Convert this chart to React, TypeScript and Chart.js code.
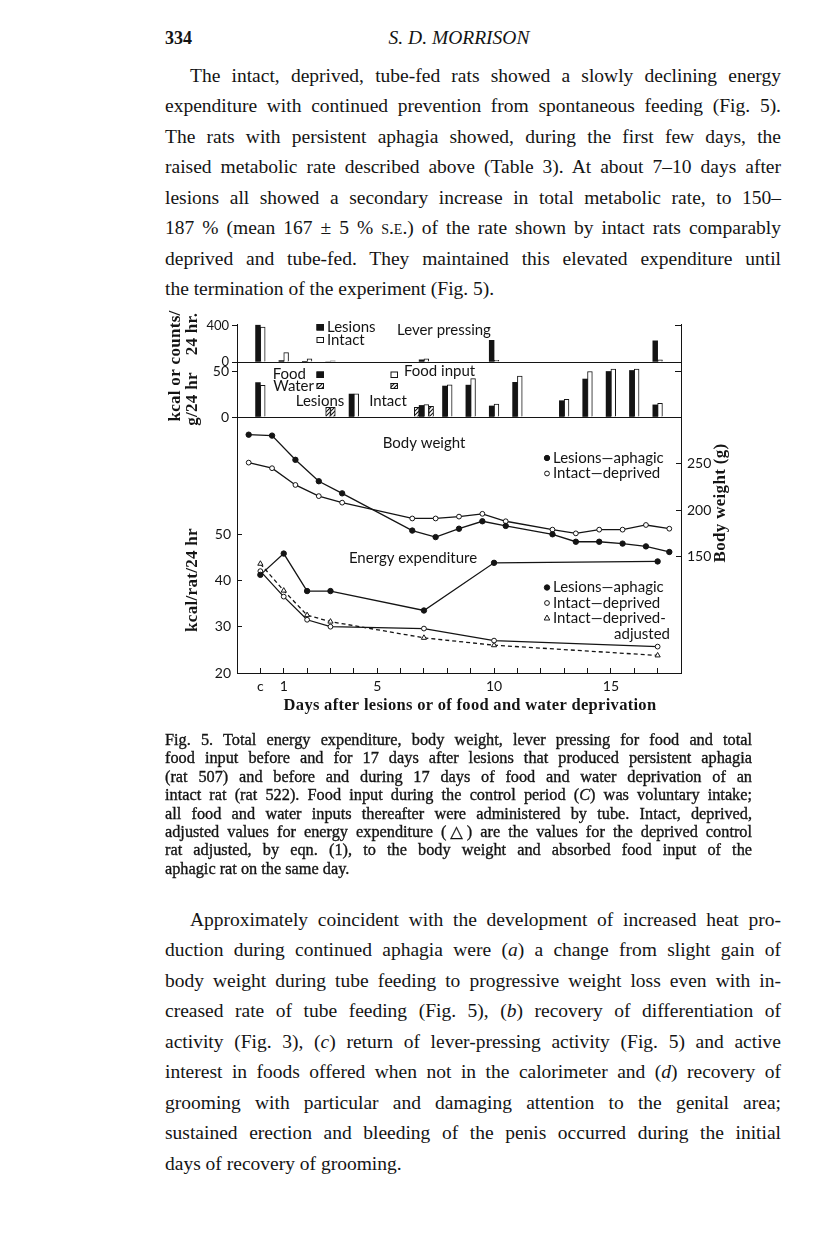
import React, { useEffect, useRef } from 'react';
import { Chart, registerables } from 'chart.js';

Chart.register(...registerables);

// ---------------- data ----------------
const energyDays = [0, 1, 2, 3, 7, 10, 17];
const energyLesions = [41.2, 45.8, 37.7, 37.7, 33.5, 43.8, 44.1];
const energyIntact = [42.0, 36.5, 31.5, 30.0, 29.6, 27.0, 25.7];
const energyAdjusted = [43.6, 37.8, 32.5, 31.1, 27.6, 26.0, 23.8];

const weightDays = [-0.5, 0.5, 1.5, 2.5, 3.5, 6.5, 7.5, 8.5, 9.5, 10.5, 12.5, 13.5, 14.5, 15.5, 16.5, 17.5];
const weightLesions = [281, 280, 254, 231, 218, 178, 171, 180, 188, 183, 174, 166, 166, 164, 161, 155];
const weightIntact = [251, 245, 227, 215, 208, 191, 191, 193, 196, 188, 179, 175, 179, 179, 184, 180];

const leverDays = [0, 1, 2, 3, 7, 10, 17];
const leverLesions = [410, 15, 8, 0, 23, 240, 232];
const leverIntact = [385, 103, 34, 14, 34, 19, 23];

const foodDays = [0, 4, 7, 8, 9, 10, 11, 13, 14, 15, 16, 17];
const foodLesions = [37.8, 25.2, 12.7, 34.0, 35.0, 12.1, 38.1, 17.9, 41.7, 50.0, 51.1, 13.3];
const foodIntact = [34.9, 25.5, 13.6, 35.4, 42.2, 14.3, 45.0, 19.4, 50.0, 52.5, 52.5, 15.1];
const waterDays = [3, 7];
const waterLesions = [10.6, 10.5];
const waterIntact = [10.6, 11.7];

const dayTickLabels: Record<string, string> = { '0': 'c', '1': '1', '5': '5', '10': '10', '15': '15' };
const leverTicks = [0, 400];
const foodTicks = [0, 50];
const energyTicks = [20, 30, 40, 50];
const weightTicks = [150, 200, 250];

// ---------------- layout / style ----------------
const INK = '#141414';
const SANS = 'Lato, "Open Sans", sans-serif';
const SERIF = '"Liberation Serif", "DejaVu Serif", serif';
const LABEL_FONT = `15px ${SANS}`;
const VTITLE_FONT = `bold 17px ${SERIF}`;
const XTITLE_FONT = `bold 16.5px ${SERIF}`;

const X_MIN = -1;
const X_MAX = 18;
const PLOT_L = 237;
const PLOT_R = 681;
const LEVER_TOP = 324.8;
const LEVER_BOT = 362;
const FOOD_TOP = 362;
const FOOD_BOT = 417;
const MAIN_TOP = 417;
const MAIN_BOT = 673;
const CV_LEFT = 150;
const CV_W = 600;
const PX_PER_DAY = (PLOT_R - PLOT_L) / (X_MAX - X_MIN);
const BAR_W = 4.8;
const SLOT = BAR_W / PX_PER_DAY;

type Box = { top: number; height: number };
const boxA: Box = { top: 296, height: 76 };
const boxB: Box = { top: 296, height: 136 };
const boxC: Box = { top: 407, height: 320 };

// ---------------- helpers ----------------
let hatchCache: CanvasPattern | null = null;
function hatch(): CanvasPattern | string {
  if (hatchCache) return hatchCache;
  const c = document.createElement('canvas');
  c.width = 4;
  c.height = 4;
  const g = c.getContext('2d');
  if (!g) return '#888';
  g.fillStyle = '#fff';
  g.fillRect(0, 0, 4, 4);
  g.strokeStyle = INK;
  g.lineWidth = 1.1;
  g.beginPath();
  g.moveTo(0, 4); g.lineTo(4, 0);
  g.moveTo(-1, 1); g.lineTo(1, -1);
  g.moveTo(3, 5); g.lineTo(5, 3);
  g.stroke();
  hatchCache = g.createPattern(c, 'repeat');
  return hatchCache || '#888';
}

function pText(ctx: CanvasRenderingContext2D, box: Box, s: string, x: number, y: number,
  font: string, align: CanvasTextAlign = 'left', rot = 0, spacing = 0) {
  ctx.save();
  ctx.font = font;
  ctx.fillStyle = INK;
  ctx.textBaseline = 'middle';
  ctx.textAlign = align;
  if (spacing) (ctx as any).letterSpacing = `${spacing}px`;
  ctx.translate(x - CV_LEFT, y - box.top);
  if (rot) ctx.rotate(rot);
  ctx.fillText(s, 0, 0);
  ctx.restore();
}

function pRect(ctx: CanvasRenderingContext2D, box: Box, x: number, y: number, w: number, h: number, fill: any) {
  ctx.save();
  const X = x - CV_LEFT;
  const Y = y - box.top;
  ctx.fillStyle = fill;
  ctx.fillRect(X, Y, w, h);
  ctx.strokeStyle = INK;
  ctx.lineWidth = 1;
  ctx.strokeRect(X + 0.5, Y + 0.5, w - 1, h - 1);
  ctx.restore();
}

function pMarker(ctx: CanvasRenderingContext2D, box: Box, kind: 'filled' | 'open' | 'tri', x: number, y: number) {
  ctx.save();
  const X = x - CV_LEFT;
  const Y = y - box.top;
  ctx.strokeStyle = INK;
  ctx.lineWidth = 1;
  ctx.beginPath();
  if (kind === 'tri') {
    ctx.moveTo(X, Y - 3);
    ctx.lineTo(X + 2.8, Y + 2);
    ctx.lineTo(X - 2.8, Y + 2);
    ctx.closePath();
  } else {
    ctx.arc(X, Y, kind === 'filled' ? 2.7 : 2.4, 0, Math.PI * 2);
  }
  ctx.fillStyle = kind === 'filled' ? INK : '#fff';
  ctx.fill();
  ctx.stroke();
  ctx.restore();
}

function yAxis(o: { position: 'left' | 'right'; min: number; max: number; ticks: number[]; width: number;
  tickLen: number; labels: boolean; size: number; pad: number }) {
  return {
    type: 'linear',
    position: o.position,
    min: o.min,
    max: o.max,
    afterBuildTicks: (s: any) => { s.ticks = o.ticks.map((v) => ({ value: v })); },
    afterFit: (s: any) => { s.width = o.width; s.paddingTop = 0; s.paddingBottom = 0; },
    grid: { display: true, drawOnChartArea: false, drawTicks: true, tickLength: o.tickLen, color: INK, lineWidth: 1 },
    border: { display: true, color: INK, width: 1 },
    ticks: { display: o.labels, color: INK, font: { family: SANS, size: o.size }, padding: o.pad },
  };
}

function xAxis(height: number, withTicks: boolean) {
  return {
    type: 'linear',
    position: 'bottom',
    min: X_MIN,
    max: X_MAX,
    offset: false,
    afterFit: (s: any) => { s.height = height; s.paddingLeft = 0; s.paddingRight = 0; },
    grid: { display: true, offset: false, drawOnChartArea: false, drawTicks: withTicks, tickLength: -5, color: INK, lineWidth: 1 },
    border: { display: true, color: INK, width: 1 },
    ticks: {
      display: withTicks,
      stepSize: 1,
      autoSkip: false,
      maxRotation: 0,
      padding: 10,
      color: INK,
      font: { family: SANS, size: 14 },
      callback: (v: any) => dayTickLabels[String(v)] ?? '',
    },
  };
}

function baseOptions(box: Box, top: number, bottom: number) {
  return {
    responsive: false,
    maintainAspectRatio: false,
    animation: false,
    events: [],
    layout: {
      autoPadding: false,
      padding: { top: top - box.top, bottom: box.top + box.height - bottom, left: 0, right: 0 },
    },
    plugins: { legend: { display: false }, tooltip: { enabled: false }, title: { display: false } },
  };
}

function barSet(points: { x: number; y: number }[], fill: any, border: number) {
  return {
    type: 'bar',
    data: points,
    backgroundColor: fill,
    borderColor: INK,
    borderWidth: border,
    barThickness: BAR_W,
    maxBarThickness: BAR_W,
    grouped: false,
  };
}

// ---------------- charts ----------------
function makeLever(canvas: HTMLCanvasElement) {
  const notes = {
    id: 'leverNotes',
    afterDraw(chart: any) {
      const ctx = chart.ctx as CanvasRenderingContext2D;
      pRect(ctx, boxA, 316.5, 324, 7.5, 6.5, INK);
      pText(ctx, boxA, 'Lesions', 327, 327.5, LABEL_FONT);
      pRect(ctx, boxA, 316.5, 337, 7.5, 6, '#fff');
      pText(ctx, boxA, 'Intact', 327, 340.5, LABEL_FONT);
      pText(ctx, boxA, 'Lever pressing', 397, 330, LABEL_FONT);
    },
  };
  return new Chart(canvas, {
    type: 'bar',
    data: {
      datasets: [
        barSet(leverDays.map((d, i) => ({ x: d - SLOT / 2, y: leverLesions[i] })), INK, 0),
        barSet(leverDays.map((d, i) => ({ x: d + SLOT / 2, y: leverIntact[i] })), '#fff', 1),
      ] as any,
    },
    options: {
      ...baseOptions(boxA, LEVER_TOP, LEVER_BOT),
      scales: {
        x: xAxis(0, false),
        y: yAxis({ position: 'left', min: 0, max: 410, ticks: leverTicks, width: PLOT_L - CV_LEFT, tickLen: 5, labels: true, size: 13, pad: 3 }),
        yR: yAxis({ position: 'right', min: 0, max: 410, ticks: leverTicks, width: CV_LEFT + CV_W - PLOT_R, tickLen: -6, labels: false, size: 13, pad: 3 }),
      },
    } as any,
    plugins: [notes],
  });
}

function makeFood(canvas: HTMLCanvasElement) {
  const h = hatch();
  const notes = {
    id: 'foodNotes',
    afterDraw(chart: any) {
      const ctx = chart.ctx as CanvasRenderingContext2D;
      pText(ctx, boxB, 'Food', 306, 374, LABEL_FONT, 'right');
      pRect(ctx, boxB, 316.5, 371.5, 7.5, 6.5, INK);
      pText(ctx, boxB, 'Water', 314, 386, LABEL_FONT, 'right');
      pRect(ctx, boxB, 316.5, 383, 7.5, 6, h);
      pText(ctx, boxB, 'Lesions', 320, 401, LABEL_FONT, 'center');
      pRect(ctx, boxB, 390.5, 371.5, 7.5, 6.5, '#fff');
      pText(ctx, boxB, 'Food input', 404, 371, LABEL_FONT);
      pRect(ctx, boxB, 390.5, 383, 7.5, 6, h);
      pText(ctx, boxB, 'Intact', 388, 401, LABEL_FONT, 'center');
      // combined axis title of the two upper panels
      pText(ctx, boxB, 'kcal or counts/', 176, 366, VTITLE_FONT, 'center', -Math.PI / 2, 0.3);
      pText(ctx, boxB, '24 hr.', 193, 334, VTITLE_FONT, 'center', -Math.PI / 2, 0.3);
      pText(ctx, boxB, 'g/24 hr', 193, 399, VTITLE_FONT, 'center', -Math.PI / 2, 0.3);
    },
  };
  const waterOffset = (d: number) => (foodDays.includes(d) ? 1.5 : 0.5) * SLOT;
  return new Chart(canvas, {
    type: 'bar',
    data: {
      datasets: [
        barSet(foodDays.map((d, i) => ({ x: d - SLOT / 2, y: foodLesions[i] })), INK, 0),
        barSet(foodDays.map((d, i) => ({ x: d + SLOT / 2, y: foodIntact[i] })), '#fff', 1),
        barSet(waterDays.map((d, i) => ({ x: d - waterOffset(d), y: waterLesions[i] })), h, 1),
        barSet(waterDays.map((d, i) => ({ x: d + waterOffset(d), y: waterIntact[i] })), h, 1),
      ] as any,
    },
    options: {
      ...baseOptions(boxB, FOOD_TOP, FOOD_BOT),
      scales: {
        x: xAxis(0, false),
        y: yAxis({ position: 'left', min: 0, max: 60.4, ticks: foodTicks, width: PLOT_L - CV_LEFT, tickLen: 5, labels: true, size: 14, pad: 3 }),
        yR: yAxis({ position: 'right', min: 0, max: 60.4, ticks: foodTicks, width: CV_LEFT + CV_W - PLOT_R, tickLen: -6, labels: false, size: 13, pad: 3 }),
      },
    } as any,
    plugins: [notes],
  });
}

function lineSet(xs: number[], ys: number[], axis: string, filled: boolean, extra: any = {}) {
  return {
    type: 'line',
    data: xs.map((x, i) => ({ x, y: ys[i] })),
    yAxisID: axis,
    borderColor: INK,
    borderWidth: 1.3,
    tension: 0,
    fill: false,
    pointRadius: filled ? 2.7 : 2.4,
    pointBorderWidth: 1,
    pointBorderColor: INK,
    pointBackgroundColor: filled ? INK : '#fff',
    ...extra,
  };
}

function makeMain(canvas: HTMLCanvasElement) {
  const notes = {
    id: 'mainNotes',
    afterDraw(chart: any) {
      const ctx = chart.ctx as CanvasRenderingContext2D;
      pText(ctx, boxC, 'Body weight', 424, 443, LABEL_FONT, 'center');
      pMarker(ctx, boxC, 'filled', 547, 458);
      pText(ctx, boxC, 'Lesions\u2014aphagic', 553, 458, LABEL_FONT);
      pMarker(ctx, boxC, 'open', 547, 473.5);
      pText(ctx, boxC, 'Intact\u2014deprived', 553, 473.5, LABEL_FONT);
      pText(ctx, boxC, 'Energy expenditure', 413, 558, LABEL_FONT, 'center');
      pMarker(ctx, boxC, 'filled', 547, 587.5);
      pText(ctx, boxC, 'Lesions\u2014aphagic', 553, 587.5, LABEL_FONT);
      pMarker(ctx, boxC, 'open', 547, 603);
      pText(ctx, boxC, 'Intact\u2014deprived', 553, 603, LABEL_FONT);
      pMarker(ctx, boxC, 'tri', 547, 618);
      pText(ctx, boxC, 'Intact\u2014deprived-', 553, 618, LABEL_FONT);
      pText(ctx, boxC, 'adjusted', 670, 634.5, LABEL_FONT, 'right');
      pText(ctx, boxC, 'kcal/rat/24 hr', 193, 580, VTITLE_FONT, 'center', -Math.PI / 2, 0.3);
      pText(ctx, boxC, 'Body weight (g)', 721, 503, VTITLE_FONT, 'center', -Math.PI / 2, 0.3);
      pText(ctx, boxC, 'Days after lesions or of food and water deprivation', 470, 706, XTITLE_FONT, 'center', 0, 0.3);
    },
  };
  return new Chart(canvas, {
    type: 'line',
    data: {
      datasets: [
        lineSet(weightDays, weightLesions, 'yR', true),
        lineSet(weightDays, weightIntact, 'yR', false),
        lineSet(energyDays, energyLesions, 'y', true),
        lineSet(energyDays, energyIntact, 'y', false),
        lineSet(energyDays, energyAdjusted, 'y', false, { borderDash: [4, 3], pointStyle: 'triangle', pointRadius: 3 }),
      ] as any,
    },
    options: {
      ...baseOptions(boxC, MAIN_TOP, boxC.top + boxC.height),
      scales: {
        x: xAxis(boxC.top + boxC.height - MAIN_BOT, true),
        y: yAxis({ position: 'left', min: 20, max: 75.3, ticks: energyTicks, width: PLOT_L - CV_LEFT, tickLen: -5, labels: true, size: 14, pad: 11 }),
        yR: yAxis({ position: 'right', min: 25, max: 300, ticks: weightTicks, width: CV_LEFT + CV_W - PLOT_R, tickLen: -5, labels: true, size: 14, pad: 11 }),
      },
    } as any,
    plugins: [notes],
  });
}

function ChartCanvas({ box, make }: { box: Box; make: (c: HTMLCanvasElement) => Chart }) {
  const ref = useRef<HTMLCanvasElement | null>(null);
  useEffect(() => {
    if (!ref.current) return;
    const ch = make(ref.current);
    return () => ch.destroy();
  }, [box, make]);
  return (
    <canvas
      ref={ref}
      width={CV_W}
      height={box.height}
      style={{ position: 'absolute', left: CV_LEFT - 8, top: box.top - 8, width: CV_W, height: box.height, display: 'block' }}
    />
  );
}

// ---------------- page text ----------------
function Line({ y, left, width, size, lh, last, heavy, children }: any) {
  return (
    <div
      style={{
        position: 'absolute',
        left: left - 8,
        top: y - 8 - lh / 2 - 0.06 * size,
        width,
        height: lh,
        lineHeight: `${lh}px`,
        fontSize: size,
        whiteSpace: 'nowrap',
        textAlign: last ? 'left' : 'justify',
        textAlignLast: last ? 'left' : 'justify',
        WebkitTextStroke: heavy ? `0.35px ${INK}` : undefined,
      } as any}
    >
      {children}
    </div>
  );
}

const para1: React.ReactNode[] = [
  'The intact, deprived, tube-fed rats showed a slowly declining energy',
  'expenditure with continued prevention from spontaneous feeding (Fig. 5).',
  'The rats with persistent aphagia showed, during the first few days, the',
  'raised metabolic rate described above (Table 3). At about 7\u201310 days after',
  'lesions all showed a secondary increase in total metabolic rate, to 150\u2013',
  <>187 % (mean 167 ± 5 % <span style={{ fontVariant: 'small-caps' }}>s.e.</span>) of the rate shown by intact rats comparably</>,
  'deprived and tube-fed. They maintained this elevated expenditure until',
  'the termination of the experiment (Fig. 5).',
];

const para2: React.ReactNode[] = [
  'Approximately coincident with the development of increased heat pro-',
  <>duction during continued aphagia were (<i>a</i>) a change from slight gain of</>,
  'body weight during tube feeding to progressive weight loss even with in-',
  <>creased rate of tube feeding (Fig. 5), (<i>b</i>) recovery of differentiation of</>,
  <>activity (Fig. 3), (<i>c</i>) return of lever-pressing activity (Fig. 5) and active</>,
  <>interest in foods offered when not in the calorimeter and (<i>d</i>) recovery of</>,
  'grooming with particular and damaging attention to the genital area;',
  'sustained erection and bleeding of the penis occurred during the initial',
  'days of recovery of grooming.',
];

const caption: React.ReactNode[] = [
  'Fig. 5. Total energy expenditure, body weight, lever pressing for food and total',
  'food input before and for 17 days after lesions that produced persistent aphagia',
  '(rat 507) and before and during 17 days of food and water deprivation of an',
  <>intact rat (rat 522). Food input during the control period (<i>C</i>) was voluntary intake;</>,
  'all food and water inputs thereafter were administered by tube. Intact, deprived,',
  'adjusted values for energy expenditure (\u25b3) are the values for the deprived control',
  'rat adjusted, by eqn. (1), to the body weight and absorbed food input of the',
  'aphagic rat on the same day.',
];

export default function App() {
  return (
    <div style={{ position: 'relative', width: 800, height: 1250, fontFamily: SERIF, color: INK }}>
      <div style={{ position: 'absolute', left: 165 - 8, top: 38 - 8 - 11, fontSize: 18, fontWeight: 'bold', lineHeight: '22px' }}>334</div>
      <div style={{ position: 'absolute', left: 300 - 8, width: 318, textAlign: 'center', top: 38 - 8 - 12, fontSize: 19.5, fontStyle: 'italic', lineHeight: '24px' }}>
        S. D. MORRISON
      </div>

      {para1.map((t, i) => (
        <Line key={'p1' + i} y={77 + 30.45 * i} left={i === 0 ? 190 : 165} width={i === 0 ? 591 : 616}
          size={19.5} lh={28} last={i === para1.length - 1}>{t}</Line>
      ))}

      <ChartCanvas box={boxA} make={makeLever} />
      <ChartCanvas box={boxB} make={makeFood} />
      <ChartCanvas box={boxC} make={makeMain} />

      {caption.map((t, i) => (
        <Line key={'c' + i} y={741 + 18.4 * i} left={165} width={587}
          size={16.3} lh={18} heavy last={i === caption.length - 1}>{t}</Line>
      ))}

      {para2.map((t, i) => (
        <Line key={'p2' + i} y={921 + 30.5 * i} left={i === 0 ? 190 : 165} width={i === 0 ? 591 : 616}
          size={19.5} lh={28} last={i === para2.length - 1}>{t}</Line>
      ))}
    </div>
  );
}
